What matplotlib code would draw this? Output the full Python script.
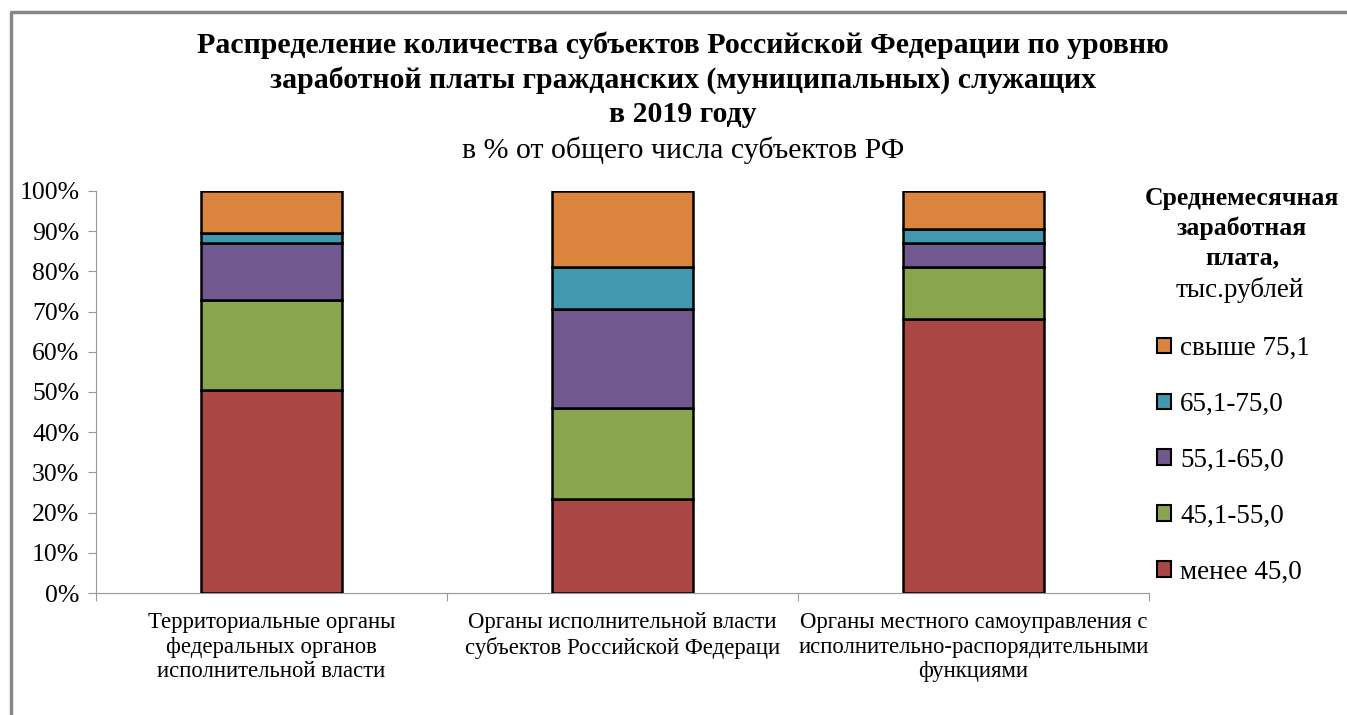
import numpy as np
import matplotlib.pyplot as plt
from matplotlib.patches import Patch

plt.rcParams['font.family'] = ['Liberation Serif', 'DejaVu Serif']

categories = ['Территориальные органы\nфедеральных органов\nисполнительной власти',
              'Органы исполнительной власти\nсубъектов Российской Федераци',
              'Органы местного самоуправления с\nисполнительно-распорядительными\nфункциями']
series = ['менее 45,0', '45,1-55,0', '55,1-65,0', '65,1-75,0', 'свыше 75,1']
colors = ['#AA4643', '#89A54E', '#71588F', '#4198AF', '#DB843D']

# доля субъектов, %
menee_45 = [50.6, 23.5, 68.2]
s45_55 = [22.4, 22.4, 12.9]
s55_65 = [14.1, 24.7, 5.9]
s65_75 = [2.4, 10.6, 3.5]
svyshe_75 = [10.6, 18.8, 9.4]
values = [menee_45, s45_55, s55_65, s65_75, svyshe_75]

title_lines = ['Распределение количества субъектов Российской Федерации по уровню',
               'заработной платы гражданских (муниципальных) служащих',
               'в 2019 году']
subtitle = 'в % от общего числа субъектов РФ'

W, H = 1347, 715
fig = plt.figure(figsize=(W / 100, H / 100), dpi=100)
ax = fig.add_axes([96/W, 1-593/H, (1149-96)/W, (593-191)/H])

x = np.arange(len(categories))
bottom = np.zeros(len(categories))
for vals, name, c in zip(values, series, colors):
    ax.bar(x, vals, 0.40, bottom=bottom, color=c, edgecolor='black', linewidth=1.8, label=name, zorder=3)
    bottom += np.array(vals)

ax.set_xlim(-0.5, 2.5)
ax.set_ylim(0, 100)
ax.set_yticks(np.arange(0, 101, 10))
ax.set_yticklabels([f'{v}%' for v in range(0, 101, 10)], fontsize=18.5)
ax.set_xticks([-0.5, 0.5, 1.5, 2.5])
ax.set_xticklabels([])
ax.set_xticks(x, minor=True)
ax.set_xticklabels(categories, minor=True, fontsize=16.4, linespacing=1.22)
ax.tick_params(axis='x', which='minor', length=0, pad=14)
ax.tick_params(axis='x', which='major', length=6, color='#999999')
ax.tick_params(axis='y', length=6, color='#999999', pad=6)
for s in ['top', 'right']:
    ax.spines[s].set_visible(False)
for s in ['left', 'bottom']:
    ax.spines[s].set_color('#999999')

cx = 683 / W
for line, y in zip(title_lines, [45, 80, 114]):
    fig.text(cx, 1 - y / H, line, ha='center', va='center', fontsize=21.5, fontweight='bold')
fig.text(cx, 1 - 150 / H, subtitle, ha='center', va='center', fontsize=21.5)

for line, y in zip(['Среднемесячная', 'заработная', 'плата,'], [198, 228, 258]):
    fig.text(1242 / W, 1 - y / H, line, ha='center', va='center', fontsize=18.5, fontweight='bold')
fig.text(1240 / W, 1 - 290 / H, 'тыс.рублей', ha='center', va='center', fontsize=19.5)

handles = [Patch(facecolor=c, edgecolor='black', linewidth=1.5) for c in colors][::-1]
fig.legend(handles, series[::-1], loc='upper left', bbox_to_anchor=(1157 / W, 1 - 336 / H),
           frameon=False, fontsize=19.5, handlelength=0.5, handleheight=0.5,
           handletextpad=0.35, labelspacing=1.14, borderaxespad=0, borderpad=0)

# рамка области диаграммы
fig.add_artist(plt.Line2D([11 / W, 11 / W, 1.0], [0, 1 - 12 / H, 1 - 12 / H],
                          transform=fig.transFigure, color='#888888', linewidth=2.5))

fig.savefig('out.png', dpi=100)
